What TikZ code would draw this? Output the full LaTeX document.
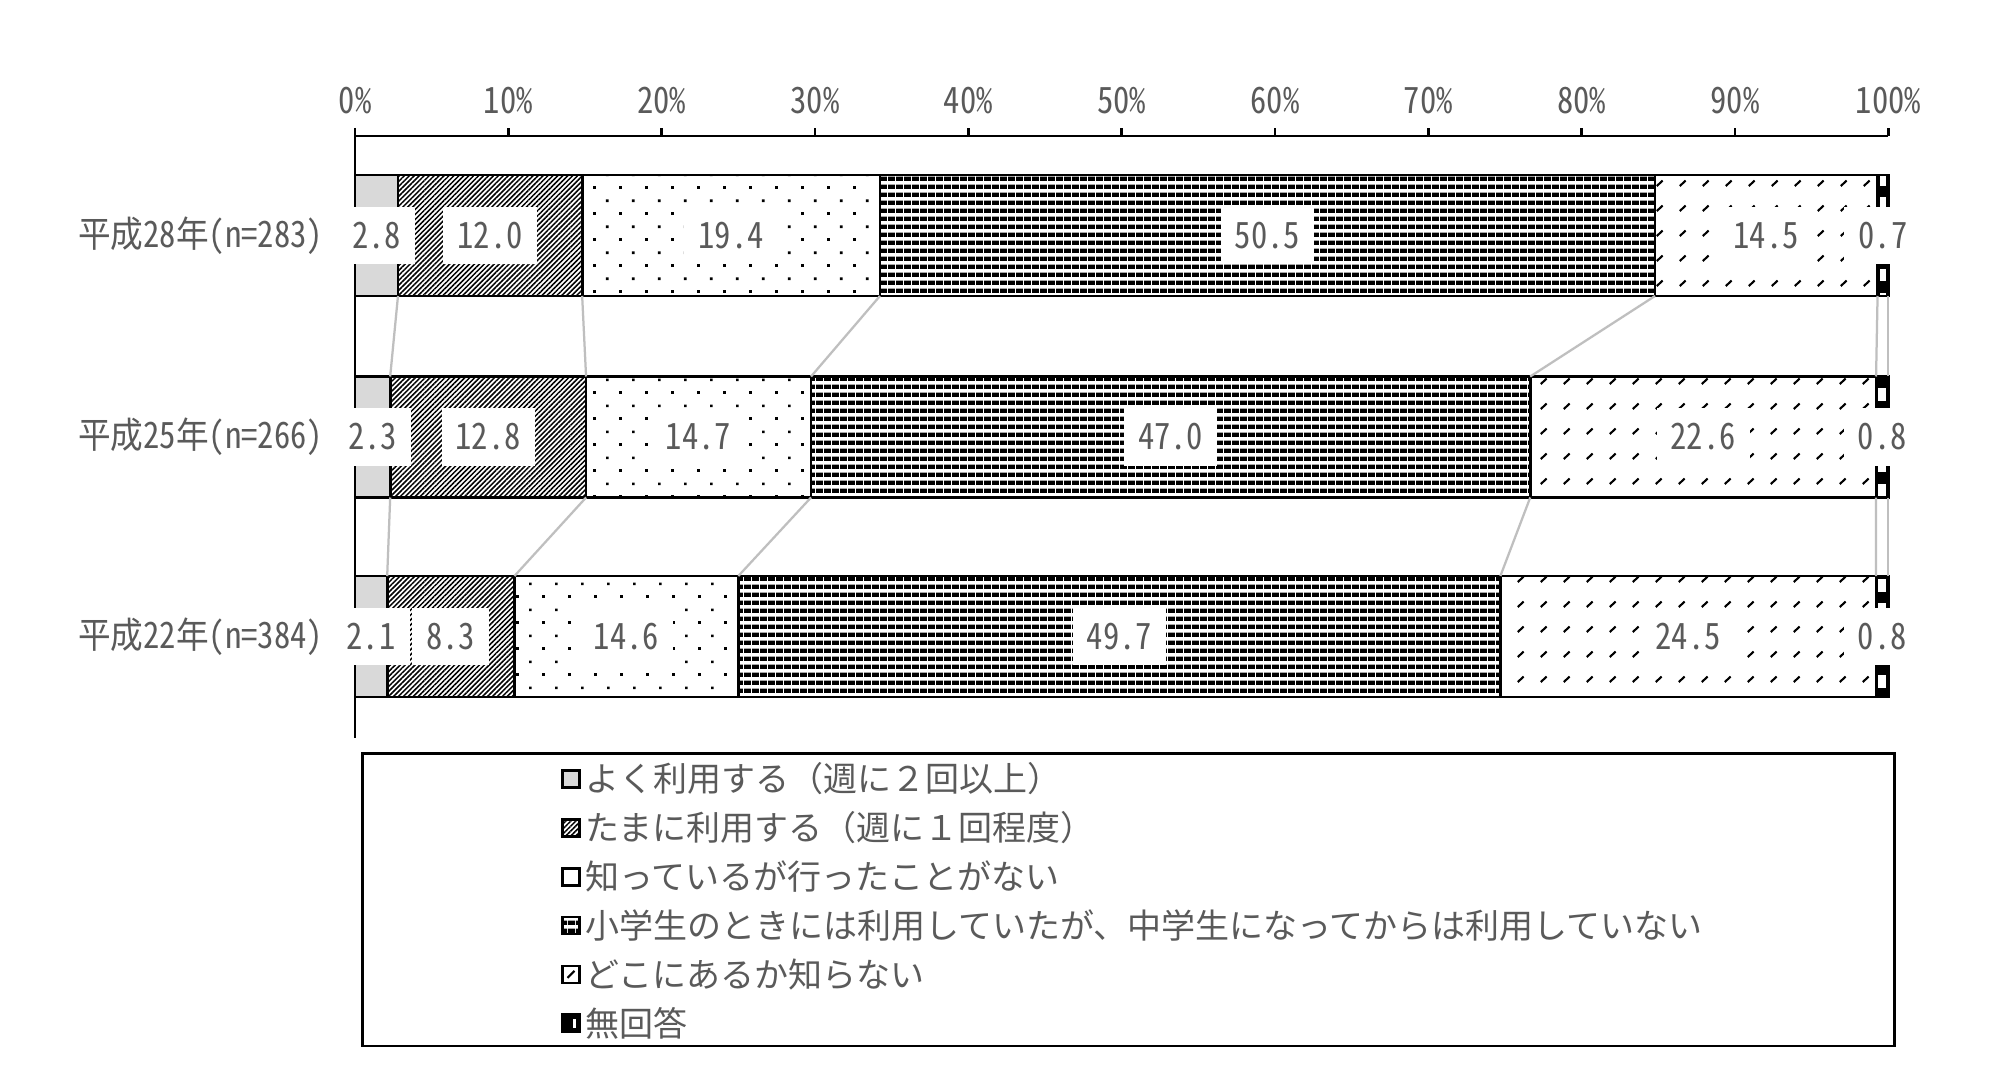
\documentclass[tikz,border=0pt]{standalone}
\usepackage{fontspec}
\setmainfont{Noto Sans CJK JP}
\newfontfamily\numfont[RawFeature={+hwid},FakeStretch=0.9]{Noto Sans CJK JP}
\usetikzlibrary{patterns,patterns.meta,calc}

\definecolor{txt}{RGB}{90,90,90}
\definecolor{gfill}{RGB}{217,217,217}
\definecolor{connc}{RGB}{191,191,191}

\pgfdeclarepatternformonly{sdots}{\pgfqpoint{0pt}{0pt}}{\pgfqpoint{10.3pt}{10.2pt}}{\pgfqpoint{10.3pt}{10.2pt}}{%
  \pgfpathrectangle{\pgfqpoint{0.5pt}{0.5pt}}{\pgfqpoint{1.1pt}{1.1pt}}%
  \pgfpathrectangle{\pgfqpoint{5.65pt}{5.6pt}}{\pgfqpoint{1.1pt}{1.1pt}}%
  \pgfusepath{fill}}
\pgfdeclarepatternformonly{hbrick}{\pgfqpoint{0pt}{0pt}}{\pgfqpoint{3.2pt}{3.2pt}}{\pgfqpoint{3.2pt}{3.2pt}}{%
  \pgfpathrectangle{\pgfqpoint{0pt}{0pt}}{\pgfqpoint{3.05pt}{1.9pt}}%
  \pgfusepath{fill}}
\pgfdeclarepatternformonly{ddash}{\pgfqpoint{0pt}{0pt}}{\pgfqpoint{9.3pt}{9.9pt}}{\pgfqpoint{9.3pt}{9.9pt}}{%
  \pgfsetlinewidth{0.85pt}%
  \pgfpathmoveto{\pgfqpoint{2.8pt}{2.8pt}}%
  \pgfpathlineto{\pgfqpoint{5.2pt}{5pt}}%
  \pgfusepath{stroke}}

\tikzset{
  segline/.style={draw=black, line width=1.1pt},
  fA/.style={fill=gfill},
  fB/.style={pattern={Lines[angle=45,distance=1.4pt,line width=0.6pt]}},
  fC/.style={pattern=sdots},
  fD/.style={pattern=hbrick},
  fE/.style={pattern=ddash},
  fF/.style={fill=black},
  connline/.style={draw=connc, line width=0.9pt},
  axisline/.style={draw=black, line width=1.1pt},
  axlab/.style={text=txt, inner sep=0pt, font={\numfont\fontsize{14.5pt}{16pt}\selectfont}},
  vlab/.style={fill=white, text=txt, inner xsep=5.6pt, inner ysep=0pt, minimum height=22.8pt,
    font={\numfont\fontsize{14.5pt}{16pt}\selectfont}},
  rowlab/.style={text=txt, inner sep=0pt, anchor=east, font={\numfont\fontsize{14.5pt}{16pt}\selectfont}},
  legtxt/.style={text=txt, inner sep=0pt, anchor=west, font={\fontsize{13.6pt}{16pt}\selectfont}},
  mk/.style={draw=black, line width=1.1pt},
  legframe/.style={draw=black, line width=1.1pt},
}

\newcommand\defrow[4]{%
  \foreach \c [count=\i from 0] in {#4}{%
    \coordinate (#1t\i) at ({355+15.333*\c},#2);
    \coordinate (#1b\i) at ({355+15.333*\c},#3);
  }}

\newcommand\drawbar[2]{% #1 row name, #2 percent where the last segment starts
  \fill[fA] (#1t0) rectangle (#1b1);
  \fill[fB] (#1t1) rectangle (#1b2);
  \fill[fC] (#1t2) rectangle (#1b3);
  \fill[fD] (#1t3) rectangle (#1b4);
  \fill[fE] (#1t4) rectangle (#1b5);
  \begin{scope}
    \clip (#1t5) rectangle (#1b6);
    \fill[fF] (#1t5) rectangle (#1b6);
    \foreach \k in {6,...,30}{
      \fill[white] ({355+15.333*#2+2.3},{5.8+23.9*\k}) rectangle (1886,{5.8+23.9*\k+12.5});
    }
  \end{scope}
  \foreach \k/\kk in {0/1,1/2,2/3,3/4,4/5,5/6}{
    \draw[segline] (#1t\k) rectangle (#1b\kk);
  }}

\newcommand\vlabels[2]{%
  \foreach \v [count=\i from 1] in {#2}{%
    \pgfmathtruncatemacro\j{\i-1}
    \node[vlab] (#1v\i) at ($(#1t\j)!0.5!(#1b\i)$) {\v};
  }}

\begin{document}
\begin{tikzpicture}[x=0.4pt,y=-0.4pt]
\useasboundingbox[fill=white] (0,0) rectangle (2000,1085);

% rows: cumulative (normalised) boundaries
\defrow{a}{175}{296}{0,2.803,14.815,34.234,84.785,99.299,100}
\defrow{b}{376.5}{497.5}{0,2.295,15.070,29.741,76.647,99.202,100}
\defrow{c}{576}{697}{0,2.1,10.4,25.0,74.7,99.2,100}

\drawbar{a}{99.299}
\drawbar{b}{99.202}
\drawbar{c}{99.2}

% series lines
\foreach \k in {1,...,6}{
  \draw[connline] (ab\k) -- (bt\k);
  \draw[connline] (bb\k) -- (ct\k);
}

% axis
\coordinate (ax0) at (355,136);
\coordinate (ax1) at (1888.3,136);
\draw[axisline] (ax0) -- (ax1);
\foreach \t/\s in {0/0,1/10,2/20,3/30,4/40,5/50,6/60,7/70,8/80,9/90,10/100}{
  \coordinate (tk\t) at ({355+153.33*\t},136);
  \coordinate (tt\t) at ({355+153.33*\t},128);
  \draw[axisline] (tk\t) -- (tt\t);
  \node[axlab] (al\t) at ({355+153.33*\t},101) {\s\%};
}
\coordinate (vtop) at (355,128);
\coordinate (vbot) at (355,738);
\draw[axisline] (vtop) -- (vbot);

% row labels
\node[rowlab] (ra) at (323.5,235.5) {平成28年(n=283)};
\node[rowlab] (rb) at (323.5,437) {平成25年(n=266)};
\node[rowlab] (rc) at (323.5,636.5) {平成22年(n=384)};

% value labels
\vlabels{a}{2.8,12.0,19.4,50.5,14.5,0.7}
\vlabels{b}{2.3,12.8,14.7,47.0,22.6,0.8}
\vlabels{c}{2.1,8.3,14.6,49.7,24.5,0.8}

% legend
\coordinate (lg1) at (362.7,753.3);
\coordinate (lg2) at (1894.6,1046);
\draw[legframe] (lg1) rectangle (lg2);

\foreach \i in {1,...,6}{
  \coordinate (m\i) at (571,{779+48.85*(\i-1)});
}
\fill[fA] ($(m1)+(-8.5,-8.5)$) rectangle ($(m1)+(8.5,8.5)$);
\fill[fB] ($(m2)+(-8.5,-8.5)$) rectangle ($(m2)+(8.5,8.5)$);
\fill[fD] ($(m4)+(-8.5,-8.5)$) rectangle ($(m4)+(8.5,8.5)$);
\draw[line width=0.8pt] ($(m5)+(-3.5,3.5)$) -- ($(m5)+(3.5,-3.5)$);
\fill[fF] ($(m6)+(-8.5,-8.5)$) rectangle ($(m6)+(8.5,8.5)$);
\fill[white] ($(m6)+(2,-4.5)$) rectangle ($(m6)+(5,4.5)$);
\foreach \i in {1,...,6}{
  \draw[mk] ($(m\i)+(-8.5,-8.5)$) rectangle ($(m\i)+(8.5,8.5)$);
}

\node[legtxt] (t1) at (584.6,779) {よく利用する（週に２回以上）};
\node[legtxt] (t2) at (584.6,827.85) {たまに利用する（週に１回程度）};
\node[legtxt] (t3) at (584.6,876.7) {知っているが行ったことがない};
\node[legtxt] (t4) at (584.6,925.55) {小学生のときには利用していたが、中学生になってからは利用していない};
\node[legtxt] (t5) at (584.6,974.4) {どこにあるか知らない};
\node[legtxt] (t6) at (584.6,1023.25) {無回答};
\end{tikzpicture}
\end{document}
